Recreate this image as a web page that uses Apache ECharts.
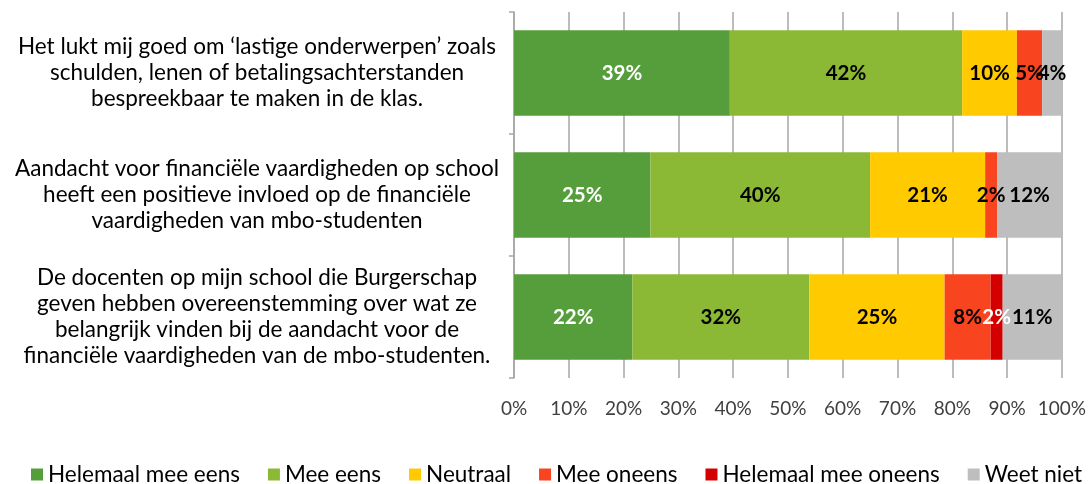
<!DOCTYPE html>
<html>
<head>
<meta charset="utf-8">
<script src="https://cdn.jsdelivr.net/npm/echarts@6/dist/echarts.min.js"></script>
<style>
  html, body { margin: 0; padding: 0; background: #fff; }
  #chart { width: 1089px; height: 484px; }
</style>
</head>
<body>
<div id="chart"></div>
<script>
// stellingen (van boven naar beneden)
var categories = [
  'Het lukt mij goed om \u2018lastige onderwerpen\u2019 zoals\nschulden, lenen of betalingsachterstanden\nbespreekbaar te maken in de klas.',
  'Aandacht voor financi\u00eble vaardigheden op school\nheeft een positieve invloed op de financi\u00eble\nvaardigheden van mbo-studenten',
  'De docenten op mijn school die Burgerschap\ngeven hebben overeenstemming over wat ze\nbelangrijk vinden bij de aandacht voor de\nfinanci\u00eble vaardigheden van de mbo-studenten.'
];
var seriesNames = ['Helemaal mee eens', 'Mee eens', 'Neutraal', 'Mee oneens', 'Helemaal mee oneens', 'Weet niet'];
// percentages per antwoord
var helemaalEens   = [39.4, 24.9, 21.6];
var meeEens        = [42.4, 40.1, 32.3];
var neutraal       = [10.0, 21.0, 24.7];
var meeOneens      = [4.6, 2.2, 8.4];
var helemaalOneens = [0, 0, 2.2];
var weetNiet       = [3.6, 11.8, 10.8];
var xTicks = [0, 10, 20, 30, 40, 50, 60, 70, 80, 90, 100];

var values = [helemaalEens, meeEens, neutraal, meeOneens, helemaalOneens, weetNiet];
var colors = ['#559E3B', '#8BB835', '#FFCA00', '#F8441F', '#D40000', '#BEBEBE'];
var labelColors = ['#fff', '#000', '#000', '#000', '#fff', '#000'];
var font = 'Lato';

var myChart = echarts.init(document.getElementById('chart'));

var series = values.map(function (arr, i) {
  return {
    name: seriesNames[i],
    type: 'bar',
    stack: 'totaal',
    barCategoryGap: '30%',
    itemStyle: { color: colors[i] },
    label: {
      show: true,
      position: 'inside',
      color: labelColors[i],
      fontFamily: font,
      fontWeight: 'bold',
      fontSize: 20.5,
      formatter: function (p) {
        return p.value > 0 ? Math.round(p.value) + '%' : '';
      }
    },
    data: arr
  };
});

var option = {
  animation: false,
  color: colors,
  grid: { left: 514, right: 27, top: 12, bottom: 106 },
  xAxis: {
    type: 'value',
    min: 0,
    max: 100,
    interval: 10,
    axisLine: { show: false },
    axisTick: { show: false },
    splitLine: { show: true, lineStyle: { color: '#a6a6a6', width: 1.5 } },
    axisLabel: {
      color: '#404040',
      fontFamily: font,
      fontSize: 19,
      margin: 21,
      formatter: function (v) { return xTicks.indexOf(v) >= 0 ? v + '%' : ''; }
    }
  },
  yAxis: {
    type: 'category',
    inverse: true,
    data: categories,
    axisLine: { show: true, lineStyle: { color: '#a6a6a6', width: 1.5 } },
    axisTick: { show: true, length: 5, lineStyle: { color: '#a6a6a6', width: 1.5 } },
    axisLabel: {
      align: 'center',
      margin: 257,
      color: '#000',
      fontFamily: font,
      fontSize: 22.5,
      lineHeight: 26
    }
  },
  legend: {
    top: 458,
    left: 26,
    itemWidth: 12,
    itemHeight: 12,
    itemGap: 28,
    icon: 'rect',
    textStyle: { color: '#000', fontFamily: font, fontSize: 22.5 },
    data: seriesNames
  },
  series: series
};

myChart.setOption(option);
</script>
</body>
</html>
